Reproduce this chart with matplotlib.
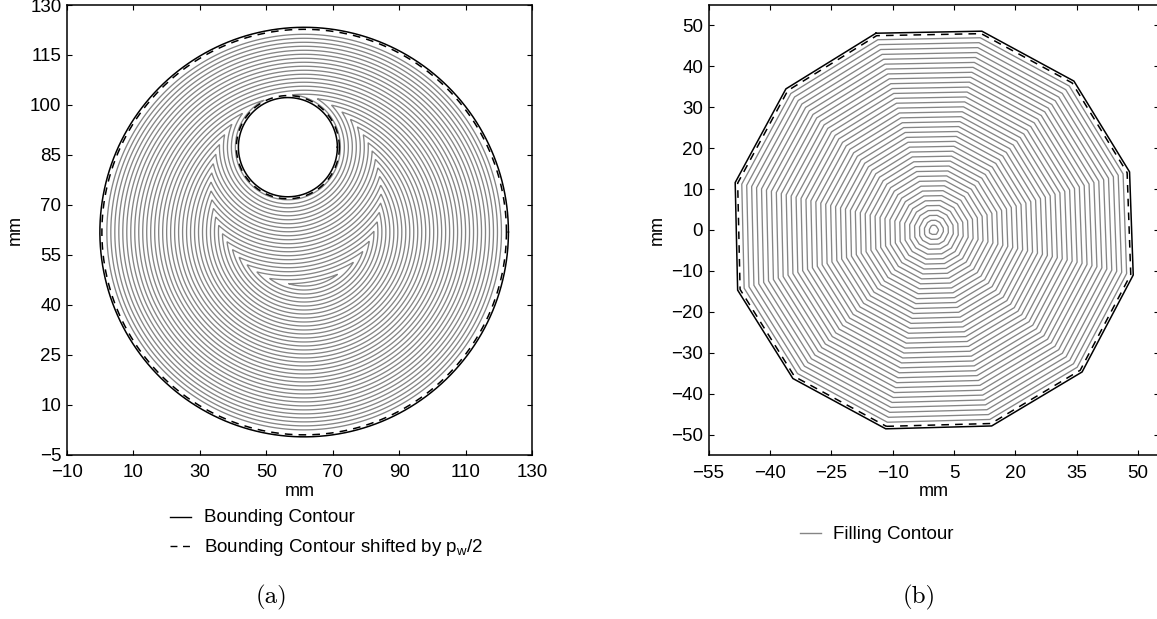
import numpy as np
from matplotlib import pyplot as plt
from matplotlib.lines import Line2D

plt.rcParams["font.family"] = ["Liberation Sans", "DejaVu Sans"]
plt.rcParams["mathtext.default"] = "regular"
plt.rcParams["axes.linewidth"] = 1.1

W, H = 1157, 619
GRAY = "#858585"

# panel (a): part outline, mm
outer_center = (61.4, 61.8)
outer_radius = 61.5
hole_center = (56.5, 87.3)
hole_radius = 14.9
hole_start_level = 19.2
shift = 0.6
a_levels = [2.1, 3.3, 4.5, 5.7, 6.9, 8.1, 9.3, 10.5, 11.7, 12.9, 14.1, 15.3, 16.5, 17.7, 18.9, 20.1,
            21.3, 22.5, 23.7, 24.9, 26.1, 27.3, 28.5, 29.7, 30.9, 32.1, 33.3, 34.5, 35.7, 36.9,
            38.1, 39.3, 40.5, 41.7, 42.9, 44.1, 45.3]
a_xticks = [-10, 10, 30, 50, 70, 90, 110, 130]
a_yticks = [-5, 10, 25, 40, 55, 70, 85, 100, 115, 130]

# panel (b): polygon vertices, mm
poly_x = [-14.1, 11.8, 34.3, 47.9, 48.8, 36.3, 14.2, -11.7, -34.4, -47.9, -48.5, -36.1]
poly_y = [48.1, 48.6, 36.4, 14.2, -11.0, -34.7, -47.9, -48.6, -36.3, -14.7, 11.6, 34.5]
b_levels = [1.6, 2.8, 4.0, 5.2, 6.4, 7.6, 8.8, 10.0, 11.2, 12.4, 13.6, 14.8, 16.0, 17.2, 18.4,
            19.6, 20.8, 22.0, 23.2, 24.4, 25.6, 26.8, 28.0, 29.2, 30.4, 31.6, 32.8, 34.0, 35.2,
            36.4, 37.6, 38.8, 40.0, 41.2, 42.4, 43.6, 44.8, 46.0, 47.2]
b_xticks = [-55, -40, -25, -10, 5, 20, 35, 50]
b_yticks = [-50, -40, -30, -20, -10, 0, 10, 20, 30, 40, 50]


def px_axes(fig, left, top, right, bottom):
    return fig.add_axes([left / W, 1 - bottom / H, (right - left) / W, (bottom - top) / H])


def style(ax, xlim, ylim, xticks, yticks, ylabel_x):
    ax.set_xlim(xlim)
    ax.set_ylim(ylim)
    ax.set_xticks(xticks)
    ax.set_yticks(yticks)
    ax.tick_params(direction="in", top=True, right=True, length=3.5, width=0.8, labelsize=13.5, pad=4)
    ax.tick_params(axis="x", pad=7)
    ax.set_xlabel("mm", fontsize=13, labelpad=1)
    ax.set_ylabel("mm", fontsize=13)
    ax.yaxis.set_label_coords(ylabel_x, 0.5)


def circle(center, radius):
    t = np.linspace(0, 2 * np.pi, 400)
    return center[0] + radius * np.cos(t), center[1] + radius * np.sin(t)


def legend_row(fig, x0, x1, xt, y, base, label, **line_kw):
    fig.add_artist(Line2D([x0 / W, x1 / W], [1 - y / H, 1 - y / H], **line_kw))
    fig.text(xt / W, 1 - base / H, label, fontsize=13.5, va="baseline", ha="left")


fig = plt.figure(figsize=(W / 100, H / 100), dpi=100)

# (a)
ax = px_axes(fig, 67, 5, 532, 454.5)
gx, gy = np.meshgrid(np.linspace(-2, 125, 1500), np.linspace(-2, 125, 1500))
d_outer = outer_radius - np.hypot(gx - outer_center[0], gy - outer_center[1])
d_hole = np.hypot(gx - hole_center[0], gy - hole_center[1]) - hole_radius
field = np.ma.masked_where(d_hole < 0, np.minimum(d_outer, d_hole + hole_start_level))
ax.contour(gx, gy, field, levels=a_levels, colors=GRAY, linewidths=0.95, linestyles="solid")
ax.plot(*circle(outer_center, outer_radius), color="k", lw=1.1)
ax.plot(*circle(outer_center, outer_radius - shift), color="k", lw=1.1, ls=(0, (5, 4)))
ax.plot(*circle(hole_center, hole_radius), color="k", lw=1.1)
ax.plot(*circle(hole_center, hole_radius + shift), color="k", lw=1.1, ls=(0, (5, 4)))
style(ax, (-10, 130), (-5, 130), a_xticks, a_yticks, -0.093)

legend_row(fig, 170, 191, 204, 517, 522.5, "Bounding Contour", color="k", lw=1)
legend_row(fig, 170, 191, 204, 546, 551.5, r"Bounding Contour shifted by p$_w$/2", color="k", lw=1, ls=(0, (5, 4)))
fig.text(271 / W, 1 - 597 / H, "(a)", family="cmr10", fontsize=18, ha="center", va="center")

# (b)
ax = px_axes(fig, 708.6, 5, 1158.6, 455)
gx, gy = np.meshgrid(np.linspace(-52, 52, 1500), np.linspace(-52, 52, 1500))
vx = np.array(poly_x)
vy = np.array(poly_y)
ex = np.roll(vx, -1) - vx
ey = np.roll(vy, -1) - vy
norm = np.hypot(ex, ey)
# vertices run clockwise, distance to each edge line is positive inside
field = np.min([(ey[i] * (gx - vx[i]) - ex[i] * (gy - vy[i])) / norm[i] for i in range(len(vx))], axis=0)
ax.contour(gx, gy, field, levels=b_levels, colors=GRAY, linewidths=0.95, linestyles="solid")
ax.contour(gx, gy, field, levels=[shift], colors="k", linewidths=1.1, linestyles=[(0, (5, 4))])
ax.plot(poly_x + poly_x[:1], poly_y + poly_y[:1], color="k", lw=1.1)
style(ax, (-55, 55), (-55, 55), b_xticks, b_yticks, -0.095)

legend_row(fig, 800, 821, 833, 533, 539, "Filling Contour", color=GRAY, lw=1)
fig.text(919 / W, 1 - 597 / H, "(b)", family="cmr10", fontsize=18, ha="center", va="center")

fig.savefig("out.png", dpi=100)
